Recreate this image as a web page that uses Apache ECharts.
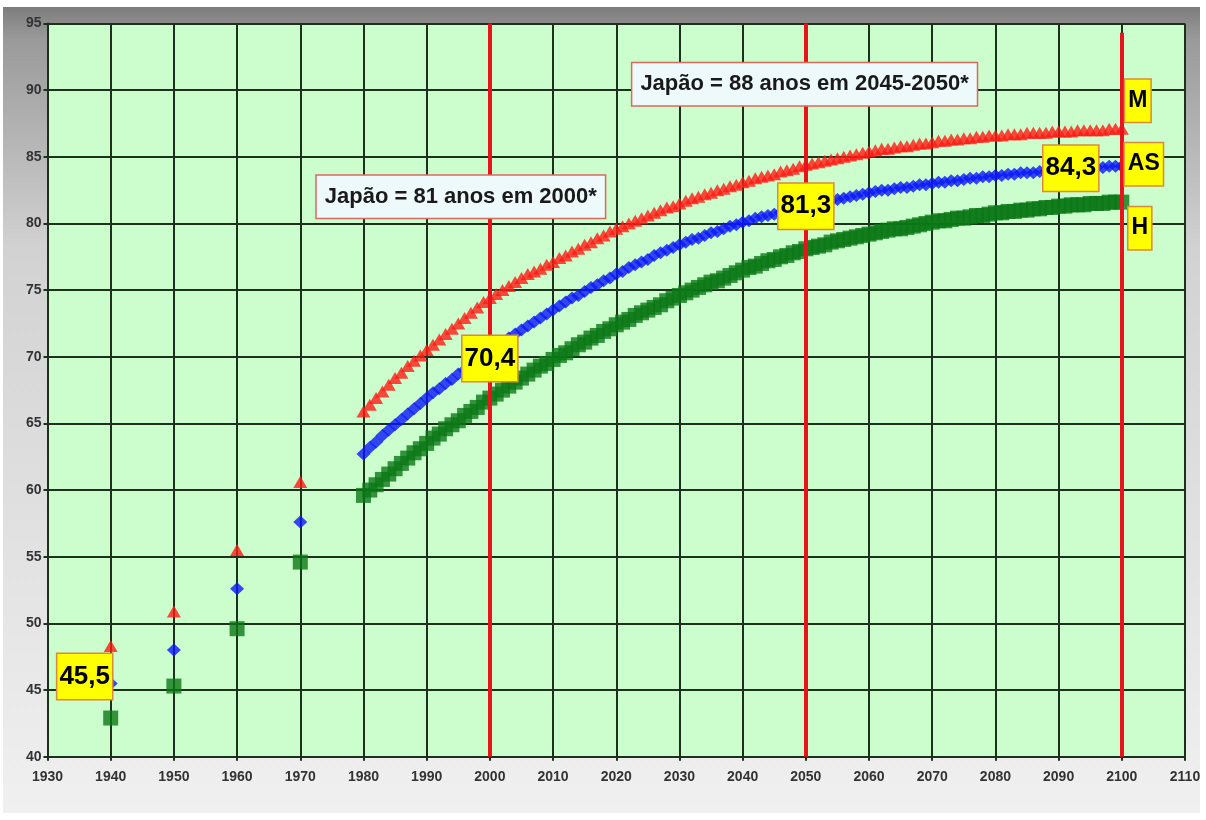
<!DOCTYPE html>
<html><head><meta charset="utf-8">
<script src="https://cdn.jsdelivr.net/npm/echarts@6/dist/echarts.min.js"></script>
<style>html,body{margin:0;padding:0;background:#fff}#c{width:1206px;height:820px}</style>
</head><body><div id="c"></div>
<script>
// ---- data ----
const earlyYears = [1940, 1950, 1960, 1970];
const mEarly  = [48.3, 50.9, 55.5, 60.6];
const asEarly = [45.5, 48.0, 52.6, 57.6];
const hEarly  = [42.9, 45.3, 49.6, 54.6];
const projStartYear = 1980;
const mProj = [
 65.9,66.4,66.9,67.4,67.9,68.4,68.8,69.3,69.7,70.1,
 70.5,70.9,71.3,71.7,72.1,72.5,72.9,73.3,73.7,74.1,
 74.4,74.7,75.0,75.3,75.6,75.9,76.2,76.4,76.6,76.9,
 77.1,77.4,77.6,77.9,78.1,78.4,78.6,78.9,79.1,79.4,
 79.6,79.8,80.0,80.2,80.4,80.6,80.8,81.0,81.2,81.3,
 81.5,81.7,81.9,82.0,82.2,82.3,82.5,82.6,82.8,82.9,
 83.1,83.2,83.4,83.5,83.6,83.7,83.9,84.0,84.1,84.3,
 84.4,84.5,84.6,84.7,84.8,84.9,85.0,85.1,85.2,85.3,
 85.4,85.5,85.6,85.6,85.7,85.8,85.8,85.9,86.0,86.0,
 86.1,86.2,86.2,86.3,86.3,86.4,86.4,86.5,86.5,86.6,
 86.6,86.6,86.7,86.7,86.7,86.8,86.8,86.8,86.8,86.9,
 86.9,86.9,86.9,87.0,87.0,87.0,87.0,87.0,87.1,87.1,
 87.1];
const asProj = [
 62.7,63.2,63.6,64.1,64.5,64.9,65.3,65.7,66.1,66.5,
 66.9,67.3,67.6,68.0,68.3,68.7,69.0,69.4,69.7,70.1,
 70.4,70.7,71.0,71.4,71.7,72.0,72.3,72.6,72.9,73.2,
 73.5,73.8,74.1,74.4,74.6,74.9,75.2,75.4,75.7,75.9,
 76.2,76.4,76.7,76.9,77.1,77.3,77.6,77.8,78.0,78.2,
 78.4,78.6,78.8,78.9,79.1,79.3,79.4,79.6,79.8,79.9,
 80.1,80.2,80.4,80.5,80.6,80.7,80.8,80.9,81.1,81.2,
 81.3,81.4,81.5,81.6,81.7,81.8,81.9,82.0,82.1,82.2,
 82.3,82.4,82.5,82.5,82.6,82.7,82.7,82.8,82.9,82.9,
 83.0,83.1,83.1,83.2,83.2,83.3,83.4,83.4,83.5,83.5,
 83.6,83.6,83.7,83.7,83.8,83.8,83.8,83.9,83.9,84.0,
 84.0,84.0,84.1,84.1,84.1,84.2,84.2,84.2,84.3,84.3,
 84.3];
const hProj = [
 59.6,60.0,60.4,60.8,61.2,61.6,62.0,62.4,62.8,63.1,
 63.5,63.9,64.2,64.6,64.9,65.2,65.6,65.9,66.2,66.6,
 66.9,67.2,67.5,67.8,68.1,68.4,68.7,69.0,69.3,69.5,
 69.8,70.1,70.3,70.6,70.9,71.1,71.4,71.6,71.9,72.1,
 72.4,72.6,72.8,73.1,73.3,73.5,73.7,73.9,74.2,74.4,
 74.6,74.8,75.0,75.2,75.4,75.6,75.7,75.9,76.1,76.3,
 76.5,76.7,76.8,77.0,77.2,77.3,77.5,77.6,77.8,77.9,
 78.1,78.2,78.3,78.4,78.6,78.7,78.8,78.9,79.0,79.1,
 79.2,79.3,79.4,79.5,79.6,79.6,79.7,79.8,79.9,80.0,
 80.1,80.2,80.2,80.3,80.4,80.4,80.5,80.6,80.6,80.7,
 80.8,80.8,80.9,80.9,81.0,81.0,81.1,81.1,81.2,81.2,
 81.3,81.3,81.4,81.4,81.4,81.5,81.5,81.5,81.6,81.6,
 81.6];
const seriesNames = ['M', 'AS', 'H'];
const markYears = [2000, 2050, 2100];
const highlightYears = [1940, 2000, 2050, 2100];   // AS values labelled
const noteTexts = ['Japão = 81 anos em 2000*', 'Japão = 88 anos em 2045-2050*'];
const xTicks = { min: 1930, max: 2110, step: 10 };
const yTicks = { min: 40, max: 95, step: 5 };

// ---- build ----
function build(early, proj) {
  const d = early.map((v, i) => [earlyYears[i], v]);
  proj.forEach((v, i) => d.push([projStartYear + i, v]));
  return d;
}
const dM = build(mEarly, mProj), dAS = build(asEarly, asProj), dH = build(hEarly, hProj);
function valAt(d, yr) { const p = d.find(q => q[0] === yr); return p ? p[1] : null; }
const fmt = v => v.toFixed(1).replace('.', ',');

const narrow = "'Liberation Sans Narrow','Arial Narrow','Liberation Sans',Arial,sans-serif";
const yellowLabel = {
  show: true, color: '#000', fontFamily: narrow, fontWeight: 'bold', fontSize: 26,
  backgroundColor: '#ffff00', borderColor: '#d98a3a', borderWidth: 1.5,
  padding: [11, 2, 8, 2], position: 'inside'
};
const nameLabel = Object.assign({}, yellowLabel, { fontSize: 23, padding: [11, 3, 8, 3] });
const noteLabel = {
  show: true, color: '#1a1a1a', fontFamily: "'Liberation Sans',Arial,sans-serif",
  fontWeight: 'bold', fontSize: 22, backgroundColor: '#eef9fb',
  borderColor: '#d86a5e', borderWidth: 1.5, padding: [11, 8, 9, 8], position: 'inside'
};
const axisFont = { color: '#333', fontFamily: narrow, fontWeight: 'bold', fontSize: 14 };

const lastYear = projStartYear + mProj.length - 1;
const hlOffsets = { 1940: [-26, -7], 2000: [0, 7], 2050: [0, 0], 2100: [-51, 2] };

const chart = echarts.init(document.getElementById('c'), null, { renderer: 'canvas' });
chart.setOption({
  backgroundColor: '#ffffff',
  animation: false,
  graphic: [{
    type: 'rect', z: -10, silent: true,
    shape: { x: 3, y: 7, width: 1197, height: 806 },
    style: { fill: new echarts.graphic.LinearGradient(0, 0, 0, 1, [
      { offset: 0, color: '#7d7d7d' }, { offset: 0.04, color: '#9a9a9a' },
      { offset: 0.3, color: '#d2d2d2' }, { offset: 1, color: '#f0f0f0' }]) }
  }],
  grid: { left: 47.5, right: 21, top: 23.5, bottom: 63.3, show: true,
          backgroundColor: '#ccfdcc', borderWidth: 0 },
  xAxis: {
    type: 'value', min: xTicks.min, max: xTicks.max, interval: xTicks.step,
    axisLine: { show: true, lineStyle: { color: '#1d2f1d', width: 2 } },
    axisTick: { show: true, length: 4, lineStyle: { color: '#1d2f1d', width: 2 } },
    axisLabel: Object.assign({ margin: 13, formatter: v => String(v) }, axisFont),
    splitLine: { show: true, lineStyle: { color: '#1d2f1d', width: 2 } }
  },
  yAxis: {
    type: 'value', min: yTicks.min, max: yTicks.max, interval: yTicks.step,
    axisLine: { show: true, lineStyle: { color: '#1d2f1d', width: 2 } },
    axisTick: { show: true, length: 4, lineStyle: { color: '#1d2f1d', width: 2 } },
    axisLabel: Object.assign({ margin: 6 }, axisFont),
    splitLine: { show: true, lineStyle: { color: '#1d2f1d', width: 2 } }
  },
  series: [
    { name: seriesNames[2], type: 'scatter', data: dH, symbol: 'rect', symbolSize: [15, 15],
      itemStyle: { color: '#0b7817' }, z: 3,
      markPoint: { symbol: 'rect', symbolSize: 0, label: nameLabel,
        data: [{ coord: [lastYear, valAt(dH, lastYear)], value: seriesNames[2], label: { offset: [18, 26] } }] } },
    { name: seriesNames[1], type: 'scatter', data: dAS, symbol: 'diamond', symbolSize: [14, 13],
      itemStyle: { color: '#0a16fa' }, z: 3,
      markPoint: { symbol: 'rect', symbolSize: 0, label: yellowLabel, z: 10,
        data: highlightYears.map(y => ({ coord: [y, valAt(dAS, y)], value: fmt(valAt(dAS, y)),
          label: { offset: hlOffsets[y] } }))
        .concat([{ coord: [lastYear, valAt(dAS, lastYear)], value: seriesNames[1],
          label: Object.assign({}, nameLabel, { offset: [22, -2] }) }]) } },
    { name: seriesNames[0], type: 'scatter', data: dM, symbol: 'triangle', symbolSize: [14, 12],
      itemStyle: { color: '#ff1a14' }, z: 3,
      markLine: { symbol: 'none', silent: true, label: { show: false },
        lineStyle: { color: '#e8141c', width: 4, type: 'solid' },
        data: [{ xAxis: markYears[0] }, { xAxis: markYears[1] },
               [{ coord: [markYears[2], 94.3] }, { coord: [markYears[2], yTicks.min] }]] },
      markPoint: { symbol: 'rect', symbolSize: 0, label: noteLabel,
        data: [{ coord: [1995.4, 82.0], value: noteTexts[0] },
               { coord: [2049.8, 90.45], value: noteTexts[1] },
               { coord: [lastYear, valAt(dM, lastYear)], value: seriesNames[0],
                 label: Object.assign({}, nameLabel, { offset: [16, -28] }) }] } }
  ]
});
</script></body></html>
